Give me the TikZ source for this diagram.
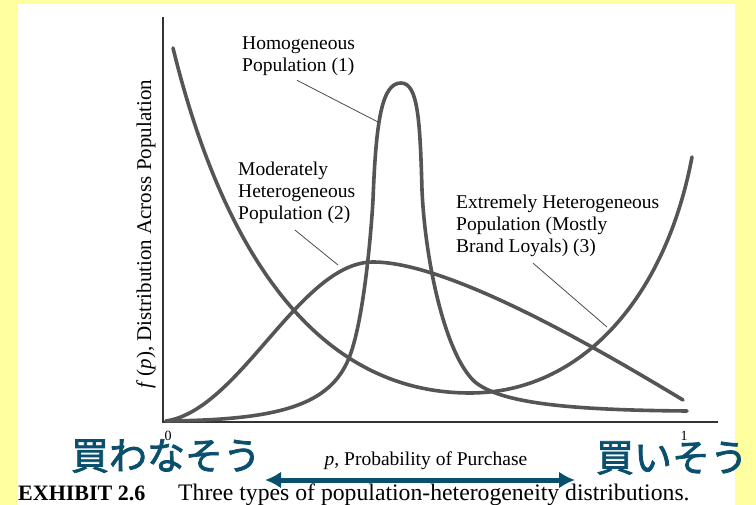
\documentclass[tikz,border=0pt]{standalone}
\usepackage{fontspec}
\setmainfont{Liberation Serif}
\newfontfamily\jpfont[FakeBold=2]{Noto Sans CJK JP}
\usetikzlibrary{arrows.meta}
\definecolor{gelb}{RGB}{255,255,160}
\definecolor{kurvengrau}{RGB}{85,85,85}
\definecolor{petrol}{RGB}{10,80,110}

\begin{document}
\begin{tikzpicture}
	[
	x=1pt, y=-1pt, font=\fontsize{19.5}{22}\selectfont, >=Latex,
	%Voreinstellungen
	kurve/.style={line width=3.6pt, draw=kurvengrau, line cap=round},
	achse/.style={line width=1.6pt, draw=black!80},
	hinweis/.style={line width=0.8pt, draw=black!70},
	etikett/.style={align=left, anchor=north west, inner sep=0pt},
	jp/.style={font=\jpfont\fontsize{38}{40}\selectfont, text=petrol, inner sep=0pt}
	]
	%Hintergrund
	\fill[gelb] (0,0) rectangle (756,505);
	\fill[white] (18,4) rectangle (735,505);
	\useasboundingbox (0,0) rectangle (756,505);
	%Achsen
	\coordinate (ursprung) at (163,422);
	\draw[achse] (163,17) -- (ursprung) -- (718,422);
	\node[font=\fontsize{14}{16}\selectfont] (null) at (168,436) {0};
	\node[font=\fontsize{14}{16}\selectfont] (eins) at (684,436) {1};
	\node[rotate=90, font=\fontsize{21}{23}\selectfont] (ylabel) at (146,234) {\textit{f}\,(\textit{p}), Distribution Across Population};
	\node (xlabel) at (426,461) {\textit{p}, Probability of Purchase};
	%Kurven
	%homogen (1)
	\draw[kurve] (166,421) .. controls (280,420) and (330,405) .. (349,358)
		.. controls (362,326) and (370,250) .. (373,200)
		.. controls (376,120) and (382,83) .. (401,83)
		.. controls (418,83) and (420,120) .. (422,190)
		.. controls (425,260) and (445,355) .. (475,382)
		.. controls (500,402) and (560,410) .. (687,411);
	%maessig heterogen (2)
	\draw[kurve] (166,421) .. controls (240,410) and (300,262) .. (373,262)
		.. controls (450,262) and (600,350) .. (683,400);
	%extrem heterogen (3)
	\draw[kurve] (173,48) .. controls (220,240) and (310,393) .. (470,393)
		.. controls (580,393) and (665,300) .. (692,157);
	%Beschriftungen
	\node[etikett] (hom) at (242,37) {Homogeneous\\Population (1)};
	\node[etikett] (mod) at (238,162) {Moderately\\Heterogeneous\\Population (2)};
	\node[etikett] (ext) at (456,195) {Extremely Heterogeneous\\Population (Mostly\\Brand Loyals) (3)};
	\coordinate (homP) at (378,122);
	\coordinate (modP) at (338,265);
	\coordinate (extP) at (607,327);
	\draw[hinweis] ([xshift=-58pt,yshift=-4pt]hom.south east) -- (homP);
	\draw[hinweis] ([xshift=57pt,yshift=-6pt]mod.south west) -- (modP);
	\draw[hinweis] ([xshift=77pt,yshift=-6pt]ext.south west) -- (extP);
	%Japanisch mit Pfeil
	\node[jp] (kaunai) at (166,456) {買わなそう};
	\node[jp] (kau) at (672,458) {買いそう};
	\coordinate (pfeilL) at (265,480);
	\coordinate (pfeilR) at (575,480);
	\draw[{Latex[length=16pt,width=17pt]}-{Latex[length=16pt,width=17pt]}, line width=5pt, petrol] (pfeilL) -- (pfeilR);
	%Unterschrift
	\node[anchor=base west, inner sep=0pt, font=\bfseries\fontsize{22}{24}\selectfont] (exhibit) at (18,500) {EXHIBIT 2.6};
	\node[anchor=base west, inner sep=0pt, font=\fontsize{23.7}{25}\selectfont] (caption) at (178,500) {Three types of population-heterogeneity distributions.};
\end{tikzpicture}
\end{document}
